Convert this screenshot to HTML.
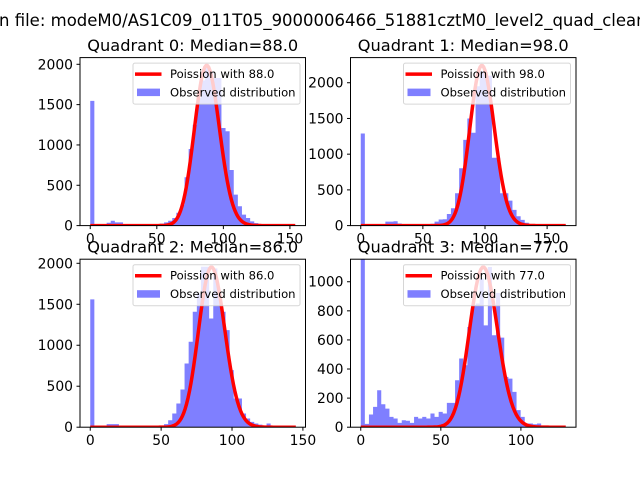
<!DOCTYPE html>
<html><head><meta charset="utf-8"><style>
body{margin:0;background:#fff;}
svg{display:block;font-family:"DejaVu Sans","Liberation Sans",sans-serif;}
</style></head><body>
<svg id="fig" width="640" height="480" viewBox="0 0 640 480" xmlns="http://www.w3.org/2000/svg">
<rect width="640" height="480" fill="#fff"/>
<text x="-1" y="26" text-anchor="start" font-size="16.5">n file: modeM0/AS1C09_011T05_9000006466_51881cztM0_level2_quad_clean.evt</text>
</svg>
<script>
// ---- data ----
const q0Counts = [1547,10,10,20,35,60,40,40,15,10,10,10,10,10,10,10,15,25,40,60,95,160,260,600,950,1250,1580,1800,1960,1900,1830,1830,1210,1170,690,384,240,136,95,52,30,15,10,8,5,5,3,3,2,2];
const q1Counts = [1289,5,5,5,10,20,55,55,60,30,20,10,10,10,10,10,15,25,55,85,88,162,243,452,802,1200,1500,1300,1950,2160,2150,2100,950,950,452,452,350,220,130,80,40,20,10,8,5,5,3,3,2,2];
const q2Counts = [1560,5,5,10,37,37,37,10,10,10,10,10,10,10,10,10,15,20,37,85,167,289,460,777,1042,1408,1632,1958,1958,1327,1937,1632,1408,1184,696,350,350,167,106,65,45,32,16,45,10,10,8,5,3,2];
const q3Counts = [1300,23,87,140,254,158,128,71,60,30,48,44,30,71,60,71,60,94,71,105,94,167,167,323,472,426,689,838,850,1021,700,1101,632,923,616,346,334,243,117,71,25,25,20,25,12,3,3,3,3,3];
const binMax = [154, 165, 144.6, 128];
const medians = [88.0, 98.0, 86.0, 77.0];
const poissonPeaks = [1985, 2240, 1952, 1100];
const yMax = [2083, 2352, 2050, 1155];
const xTicks = [[0,50,100,150],[0,50,100,150],[0,50,100,150],[0,50,100]];
const yTicks = [[0,500,1000,1500,2000],[0,500,1000,1500,2000],[0,500,1000,1500,2000],[0,200,400,600,800,1000]];
const titles = ["Quadrant 0: Median=88.0","Quadrant 1: Median=98.0","Quadrant 2: Median=86.0","Quadrant 3: Median=77.0"];
const allCounts = [q0Counts,q1Counts,q2Counts,q3Counts];

const NS = "http://www.w3.org/2000/svg";
const fig = document.getElementById('fig');
function mk(tag, attrs, parent){const e=document.createElementNS(NS,tag);for(const k in attrs)e.setAttribute(k,attrs[k]);(parent||fig).appendChild(e);return e;}
function lgamma(x){
  if(x<7){let p=1;while(x<7){p*=x;x+=1;}return lgamma(x)-Math.log(p);}
  return (x-0.5)*Math.log(x)-x+0.5*Math.log(2*Math.PI)+1/(12*x)-1/(360*x*x*x);
}
const boxes = [[80,57.6,305.5,225.6],[350.5,57.6,576,225.6],[80,259.2,305.5,427.2],[350.5,259.2,576,427.2]];
for(let q=0;q<4;q++){
  const [L,T,R,B]=boxes[q];
  const g = mk('g',{});
  
  
  const rng=binMax[q], x0=-0.05*rng, x1=1.05*rng;
  const sx=v=>L+(v-x0)/(x1-x0)*(R-L);
  const sy=v=>B-v/yMax[q]*(B-T);
  const clipId='clip'+q;
  const cp=mk('clipPath',{id:clipId},g); mk('rect',{x:L,y:T,width:R-L,height:B-T},cp);
  const plot=mk('g',{'clip-path':'url(#'+clipId+')'},g);
  const counts=allCounts[q], n=counts.length, bw=rng/n;
  let hd='M'+sx(0).toFixed(2)+','+B;
  counts.forEach((c,i)=>{
    hd+='L'+sx(i*bw).toFixed(2)+','+sy(c).toFixed(2)+'L'+sx((i+1)*bw).toFixed(2)+','+sy(c).toFixed(2);
  });
  hd+='L'+sx(rng).toFixed(2)+','+B+'Z';
  const hp=mk('path',{d:hd,fill:'#0000ff','fill-opacity':0.5},plot);
  
  
  const mu=medians[q], lpm=Math.floor(mu)*Math.log(mu)-mu-lgamma(Math.floor(mu)+1);
  let d='';
  for(let k=0;k<=Math.round(rng);k++){
    const lp=k*Math.log(mu)-mu-lgamma(k+1);
    const v=poissonPeaks[q]*Math.exp(lp-lpm);
    d+=(k?'L':'M')+sx(k).toFixed(2)+','+sy(v).toFixed(2);
  }
  const pl=mk('path',{d:d,fill:'none',stroke:'#ff0000','stroke-width':3.5,'stroke-linejoin':'round'},plot);
  
  
  const fr=mk('rect',{x:L,y:T,width:R-L,height:B-T,fill:'none',stroke:'#000','stroke-width':1},g);
  
  
  xTicks[q].forEach(t=>{
    const x=sx(t); mk('line',{x1:x,x2:x,y1:B,y2:B+3.5,stroke:'#000'},g);
    const tx=mk('text',{x:x,y:B+18,'text-anchor':'middle','font-size':13.9},g); tx.textContent=t;
    
    
  });
  yTicks[q].forEach(t=>{
    const y=sy(t); mk('line',{x1:L-3.5,x2:L,y1:y,y2:y,stroke:'#000'},g);
    const tx=mk('text',{x:L-7,y:y+5,'text-anchor':'end','font-size':13.9},g); tx.textContent=t;
    
    
  });
  const ti=mk('text',{x:(L+R)/2,y:T-6.5,'text-anchor':'middle','font-size':16.2},g); ti.textContent=titles[q];
  
  
  const lg=mk('g',{},g);
  
  
  const lw=167, lx=R-5.5-lw, ly=T+5.5;
  mk('rect',{x:lx,y:ly,width:lw,height:41,rx:2,fill:'#fff','fill-opacity':0.8,stroke:'#ccc','stroke-opacity':0.8},lg);
  mk('line',{x1:lx+2,x2:lx+28.5,y1:ly+11,y2:ly+11,stroke:'#ff0000','stroke-width':3.5},lg);
  const t1=mk('text',{x:lx+37,y:ly+15,'font-size':11.6},lg); t1.textContent='Poission with '+medians[q].toFixed(1);
  
  
  mk('rect',{x:lx+4,y:ly+25.5,width:23,height:7.5,fill:'#0000ff','fill-opacity':0.5},lg);
  const t2=mk('text',{x:lx+37,y:ly+33.5,'font-size':11.6},lg); t2.textContent='Observed distribution';
  
  
}
</script>
</body></html>
